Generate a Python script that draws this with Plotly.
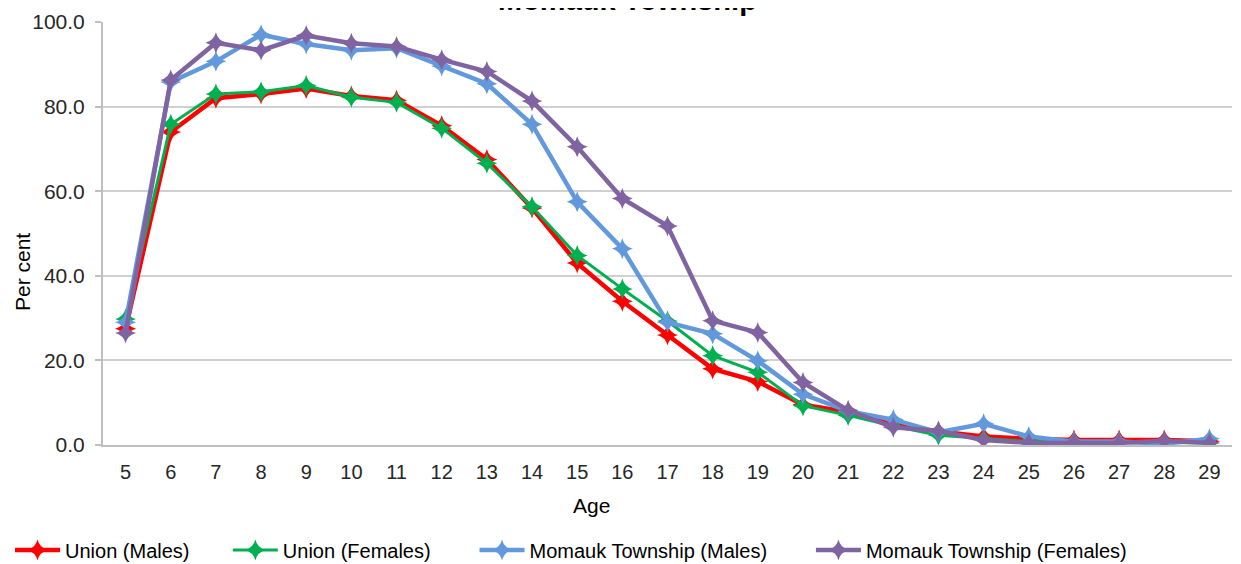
import plotly.graph_objects as go

ages = [str(a) for a in range(5, 30)]

union_males = [27.5, 74.0, 82.0, 83.0, 84.3, 82.5, 81.5, 75.5, 67.5, 56.0, 43.0, 34.0, 26.0,
               18.0, 15.0, 9.5, 7.8, 4.8, 3.2, 2.0, 1.5, 1.2, 1.2, 1.2, 0.9]
union_females = [29.8, 75.8, 83.0, 83.5, 85.0, 82.2, 81.0, 74.9, 66.6, 56.3, 44.8, 36.9, 29.3,
                 21.1, 17.2, 9.3, 7.0, 4.5, 2.3, 1.5, 0.8, 0.8, 0.6, 0.6, 0.5]
momauk_males = [29.0, 85.8, 90.7, 97.0, 94.8, 93.3, 93.8, 89.6, 85.4, 75.8, 57.5, 46.4, 29.0,
                26.3, 19.9, 12.0, 8.0, 6.0, 3.0, 5.0, 2.0, 0.8, 0.8, 0.3, 1.5]
momauk_females = [26.5, 86.3, 95.1, 93.3, 96.8, 95.0, 94.2, 91.1, 88.3, 81.3, 70.5, 58.3, 51.8,
                  29.4, 26.6, 14.8, 8.2, 4.2, 3.3, 1.2, 0.5, 0.6, 0.5, 1.0, 0.5]

series_names = ["Union (Males)", "Union (Females)", "Momauk Township (Males)", "Momauk Township (Females)"]
series_values = [union_males, union_females, momauk_males, momauk_females]
colors = ["#FF0000", "#00B050", "#6199DC", "#8064A2"]
widths = [4.5, 3, 4.5, 4.5]
pads = ["\u00a0" * 6, "\u00a0" * 7, "\u00a0" * 7, ""]

FONT = "Arial, Liberation Sans, sans-serif"

# page has an 8px body margin, so figure coordinates = page coordinates - 8
W, H = 1233, 556
L, R, T, B = 95, 9, 14, 119
PW, PH = W - L - R, H - T - B

fig = go.Figure()
for name, vals, col, w, pad in zip(series_names, series_values, colors, widths, pads):
    fig.add_trace(go.Scatter(
        x=ages, y=vals, name=name + pad, mode="lines+markers",
        line=dict(color=col, width=w),
        marker=dict(symbol="star-diamond", size=15, color=col, line=dict(width=0)),
    ))

fig.update_layout(
    width=W, height=H,
    margin=dict(l=L, r=R, t=T, b=B, autoexpand=False),
    paper_bgcolor="white", plot_bgcolor="white",
    font=dict(family=FONT, size=20, color="#404040"),
    showlegend=True,
    legend=dict(orientation="h", xref="container", yref="container",
                x=2 / W, y=(H - 542) / H, xanchor="left", yanchor="middle",
                font=dict(family=FONT, size=20, color="#000000"),
                itemwidth=45, bgcolor="rgba(0,0,0,0)"),
    annotations=[
        dict(text="<b>Momauk Township</b>", xref="paper", yref="paper",
             x=(619 - L) / PW, y=1 + (T + 8) / PH, xanchor="center", yanchor="middle",
             showarrow=False, font=dict(family=FONT, size=29, color="#000000")),
        dict(text="Per cent", xref="paper", yref="paper", textangle=-90,
             x=(14 - L) / PW, y=(H - B - 264) / PH, xanchor="center", yanchor="middle",
             showarrow=False, font=dict(family=FONT, size=21, color="#000000")),
        dict(text="Age", xref="paper", yref="paper",
             x=(583 - L) / PW, y=-(497 - (H - B)) / PH, xanchor="center", yanchor="middle",
             showarrow=False, font=dict(family=FONT, size=21, color="#000000")),
    ],
)

fig.update_xaxes(type="category", range=[-0.5, 24.5], showgrid=False,
                 showline=True, linecolor="#BFBFBF", linewidth=2,
                 ticks="", ticklabelstandoff=8,
                 tickfont=dict(family=FONT, size=20, color="#262626"))
fig.update_yaxes(range=[0, 100], dtick=20, tickformat=".1f",
                 showgrid=True, gridcolor="#D0D0D0", gridwidth=2,
                 showline=True, linecolor="#BFBFBF", linewidth=2,
                 ticks="outside", ticklen=6, tickcolor="#BFBFBF", tickwidth=2,
                 zeroline=False, ticklabelstandoff=6,
                 tickfont=dict(family=FONT, size=21, color="#262626"))

fig.write_html("out.html")
